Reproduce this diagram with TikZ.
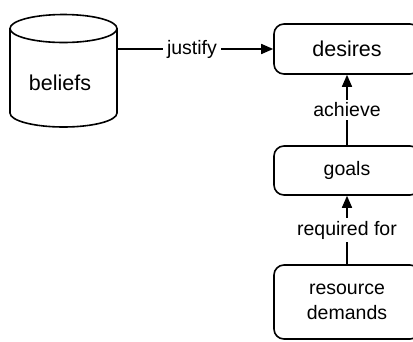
\documentclass[tikz,border=0pt]{standalone}
\usepackage{fontspec}
\setmainfont{Liberation Sans}
\usetikzlibrary{arrows.meta}
\tikzset{
  box/.style={draw, line width=1.6pt, rounded corners=10pt, minimum width=146pt,
    align=center, inner sep=0pt},
  big/.style={font=\fontsize{21.5}{26}\selectfont},
  lbl/.style={fill=white, inner xsep=4pt, inner ysep=3pt},
  link/.style={line width=1.6pt, -{Triangle[length=12pt,width=10pt]}},
}
\begin{document}
\begin{tikzpicture}[x=1pt, y=-1pt, font=\fontsize{19.5}{25}\selectfont]
\useasboundingbox (0,0) rectangle (413,341);
\clip (0,0) rectangle (413,341);
% database cylinder
\draw[line width=1.6pt] (10,28.5) -- (10,113)
  arc[start angle=180, end angle=0, x radius=53.5, y radius=14] -- (117,28.5);
\draw[line width=1.6pt] (63.5,28.5) ellipse[x radius=53.5, y radius=14];
\node[big] (beliefs) at (60,83) {beliefs};
\coordinate (cylR) at (117,49);
% right column of boxes
\node[box, big, minimum height=50pt] (desires) at (347,49) {desires};
\node[box, minimum height=49pt] (goals) at (347,170.5) {goals};
\node[box, minimum height=74pt] (resource) at (347,302) {resource\\demands};
% connectors
\draw[link] (cylR) -- node[lbl, pos=0.48] {justify} (desires.west);
\draw[link] (goals.north) -- node[lbl] {achieve} (desires.south);
\draw[link] (resource.north) -- node[lbl] {required for} (goals.south);
\end{tikzpicture}
\end{document}
